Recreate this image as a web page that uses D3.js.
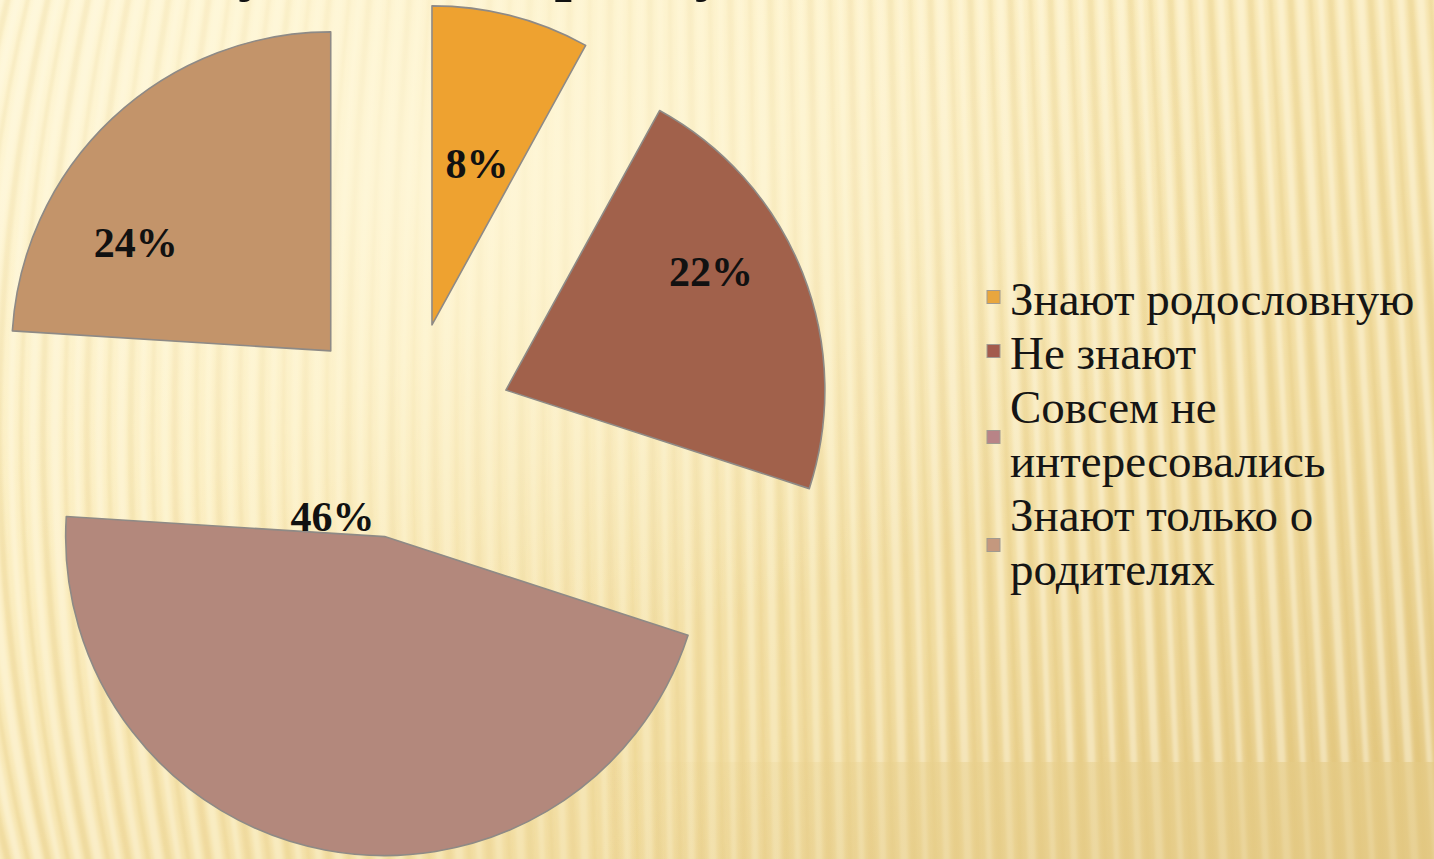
<!DOCTYPE html>
<html><head><meta charset="utf-8">
<script src="https://cdn.jsdelivr.net/npm/d3@7"></script>
<style>html,body{margin:0;padding:0;overflow:hidden;background:#fbefc6}
svg text{font-family:"Liberation Serif","DejaVu Serif","Times New Roman",serif}</style>
</head><body>
<script>
// ---- data ----
const categories = ["Знают родословную", "Не знают", "Совсем не интересовались", "Знают только о родителях"];
const values = [8, 22, 46, 24];
const legendLines = [["Знают родословную"], ["Не знают"], ["Совсем не", "интересовались"], ["Знают только о", "родителях"]];
const sliceColors = ["#EEA230", "#A1614B", "#B3887C", "#C3946A"];
const markerColors = ["#E8A63E", "#A35B4D", "#B88487", "#C4987E"];
const titleText = "Результаты опроса учащихся";

// ---- layout ----
const W = 1434, H = 859;
const cx = 405, cy = 430, R = 319, explode = 108.5;
const labelLayout = [{a: 15.6, d: 167}, {a: 60, d: 237}, {a: 291, d: 56}, {a: 299, d: 223}];

const svg = d3.select("body").append("svg").attr("width", W).attr("height", H);
const defs = svg.append("defs");

const bg = defs.append("linearGradient").attr("id", "bg").attr("x1", 0).attr("y1", 0).attr("x2", 1).attr("y2", 1);
[[0, "#FEF5D2"], [0.35, "#FBEDBF"], [0.7, "#F1DCA0"], [1, "#E2C680"]].forEach(s =>
  bg.append("stop").attr("offset", s[0]).attr("stop-color", s[1]));
const glow = defs.append("radialGradient").attr("id", "glow").attr("cx", 0.32).attr("cy", 0.2).attr("r", 0.55);
glow.append("stop").attr("offset", 0).attr("stop-color", "#FFF8DC").attr("stop-opacity", 0.7);
glow.append("stop").attr("offset", 1).attr("stop-color", "#FFF8DC").attr("stop-opacity", 0);
defs.append("filter").attr("id", "blur").attr("x", -0.1).attr("y", -0.1).attr("width", 1.2).attr("height", 1.2)
  .append("feGaussianBlur").attr("stdDeviation", 1.6);
const floorG = defs.append("linearGradient").attr("id", "floor").attr("x1", 0).attr("y1", 0).attr("x2", 1).attr("y2", 0);
floorG.append("stop").attr("offset", 0).attr("stop-color", "#E9D18F").attr("stop-opacity", 0);
floorG.append("stop").attr("offset", 0.4).attr("stop-color", "#E8D08D").attr("stop-opacity", 0.45);
floorG.append("stop").attr("offset", 1).attr("stop-color", "#E4CA85").attr("stop-opacity", 0.65);

svg.append("rect").attr("width", W).attr("height", H).attr("fill", "url(#bg)");

// stripes
const stripes = svg.append("g").attr("filter", "url(#blur)");
const xs = d3.range(-60, W + 60, 20);
xs.forEach((x0, i) => {
  const bend = x0 < 700 ? 55 * Math.pow(1 - Math.max(x0, 0) / 700, 1.3) : 0;
  const slant = x0 > 500 ? 30 * (x0 - 500) / 934 : 0;
  const path = `M${x0},-10 Q${x0 - 2 * bend + slant},${H / 2} ${x0 + 2 * slant},${H + 10}`;
  const k = 0.5 + 0.5 * Math.min(1, Math.abs(x0 - 520) / 500);
  stripes.append("path").attr("d", path).attr("fill", "none")
    .attr("stroke", "#FFFBE6").attr("stroke-opacity", 0.45 * k).attr("stroke-width", 6 + (i % 3));
  stripes.append("path").attr("d", path).attr("transform", "translate(10,0)").attr("fill", "none")
    .attr("stroke", "#D6B45C").attr("stroke-opacity", 0.22 * k).attr("stroke-width", 4 + (i % 2) * 2);
});
svg.append("rect").attr("width", W).attr("height", H).attr("fill", "url(#glow)");
svg.append("rect").attr("x", 600).attr("y", 762).attr("width", W - 600).attr("height", H - 762).attr("fill", "url(#floor)");

// title (only the descenders remain visible at the top edge, as in the slide)
svg.append("text").attr("x", 560).attr("y", -11).attr("text-anchor", "middle")
  .attr("font-size", 62).attr("font-weight", "bold").attr("fill", "#111")
  .text(titleText);

// pie
const arcs = d3.pie().sort(null).value(d => d)(values);
const arc = d3.arc().innerRadius(0).outerRadius(R);
const rad = Math.PI / 180;
const slices = svg.append("g").selectAll("g").data(arcs).join("g")
  .attr("transform", d => {
    const m = (d.startAngle + d.endAngle) / 2;
    return `translate(${cx + explode * Math.sin(m)},${cy - explode * Math.cos(m)})`;
  });
slices.append("path").attr("d", arc).attr("fill", (d, i) => sliceColors[i])
  .attr("stroke", "#8E8A86").attr("stroke-width", 1.6).attr("stroke-linejoin", "round");
slices.append("text")
  .attr("x", (d, i) => labelLayout[i].d * Math.sin(labelLayout[i].a * rad))
  .attr("y", (d, i) => -labelLayout[i].d * Math.cos(labelLayout[i].a * rad))
  .attr("dy", "0.34em").attr("text-anchor", "middle")
  .attr("font-size", 42).attr("font-weight", "bold").attr("fill", "#111")
  .text(d => d.data + "%");

// legend
const legend = svg.append("g");
const lx = 1010, ly0 = 315, lh = 54;
let lineIdx = 0;
legendLines.forEach((lines, i) => {
  const first = ly0 + lineIdx * lh, last = ly0 + (lineIdx + lines.length - 1) * lh;
  const mc = (first + last) / 2 - 18 + (lines.length - 1) * 5;
  legend.append("rect").attr("x", 987).attr("y", mc - 6.5).attr("width", 13).attr("height", 13)
    .attr("fill", markerColors[i]).attr("stroke", "#A09A90").attr("stroke-width", 1);
  lines.forEach((t, j) => {
    legend.append("text").attr("x", lx).attr("y", first + j * lh)
      .attr("font-size", 47).attr("fill", "#151515").text(t);
  });
  lineIdx += lines.length;
});
</script>
</body></html>
